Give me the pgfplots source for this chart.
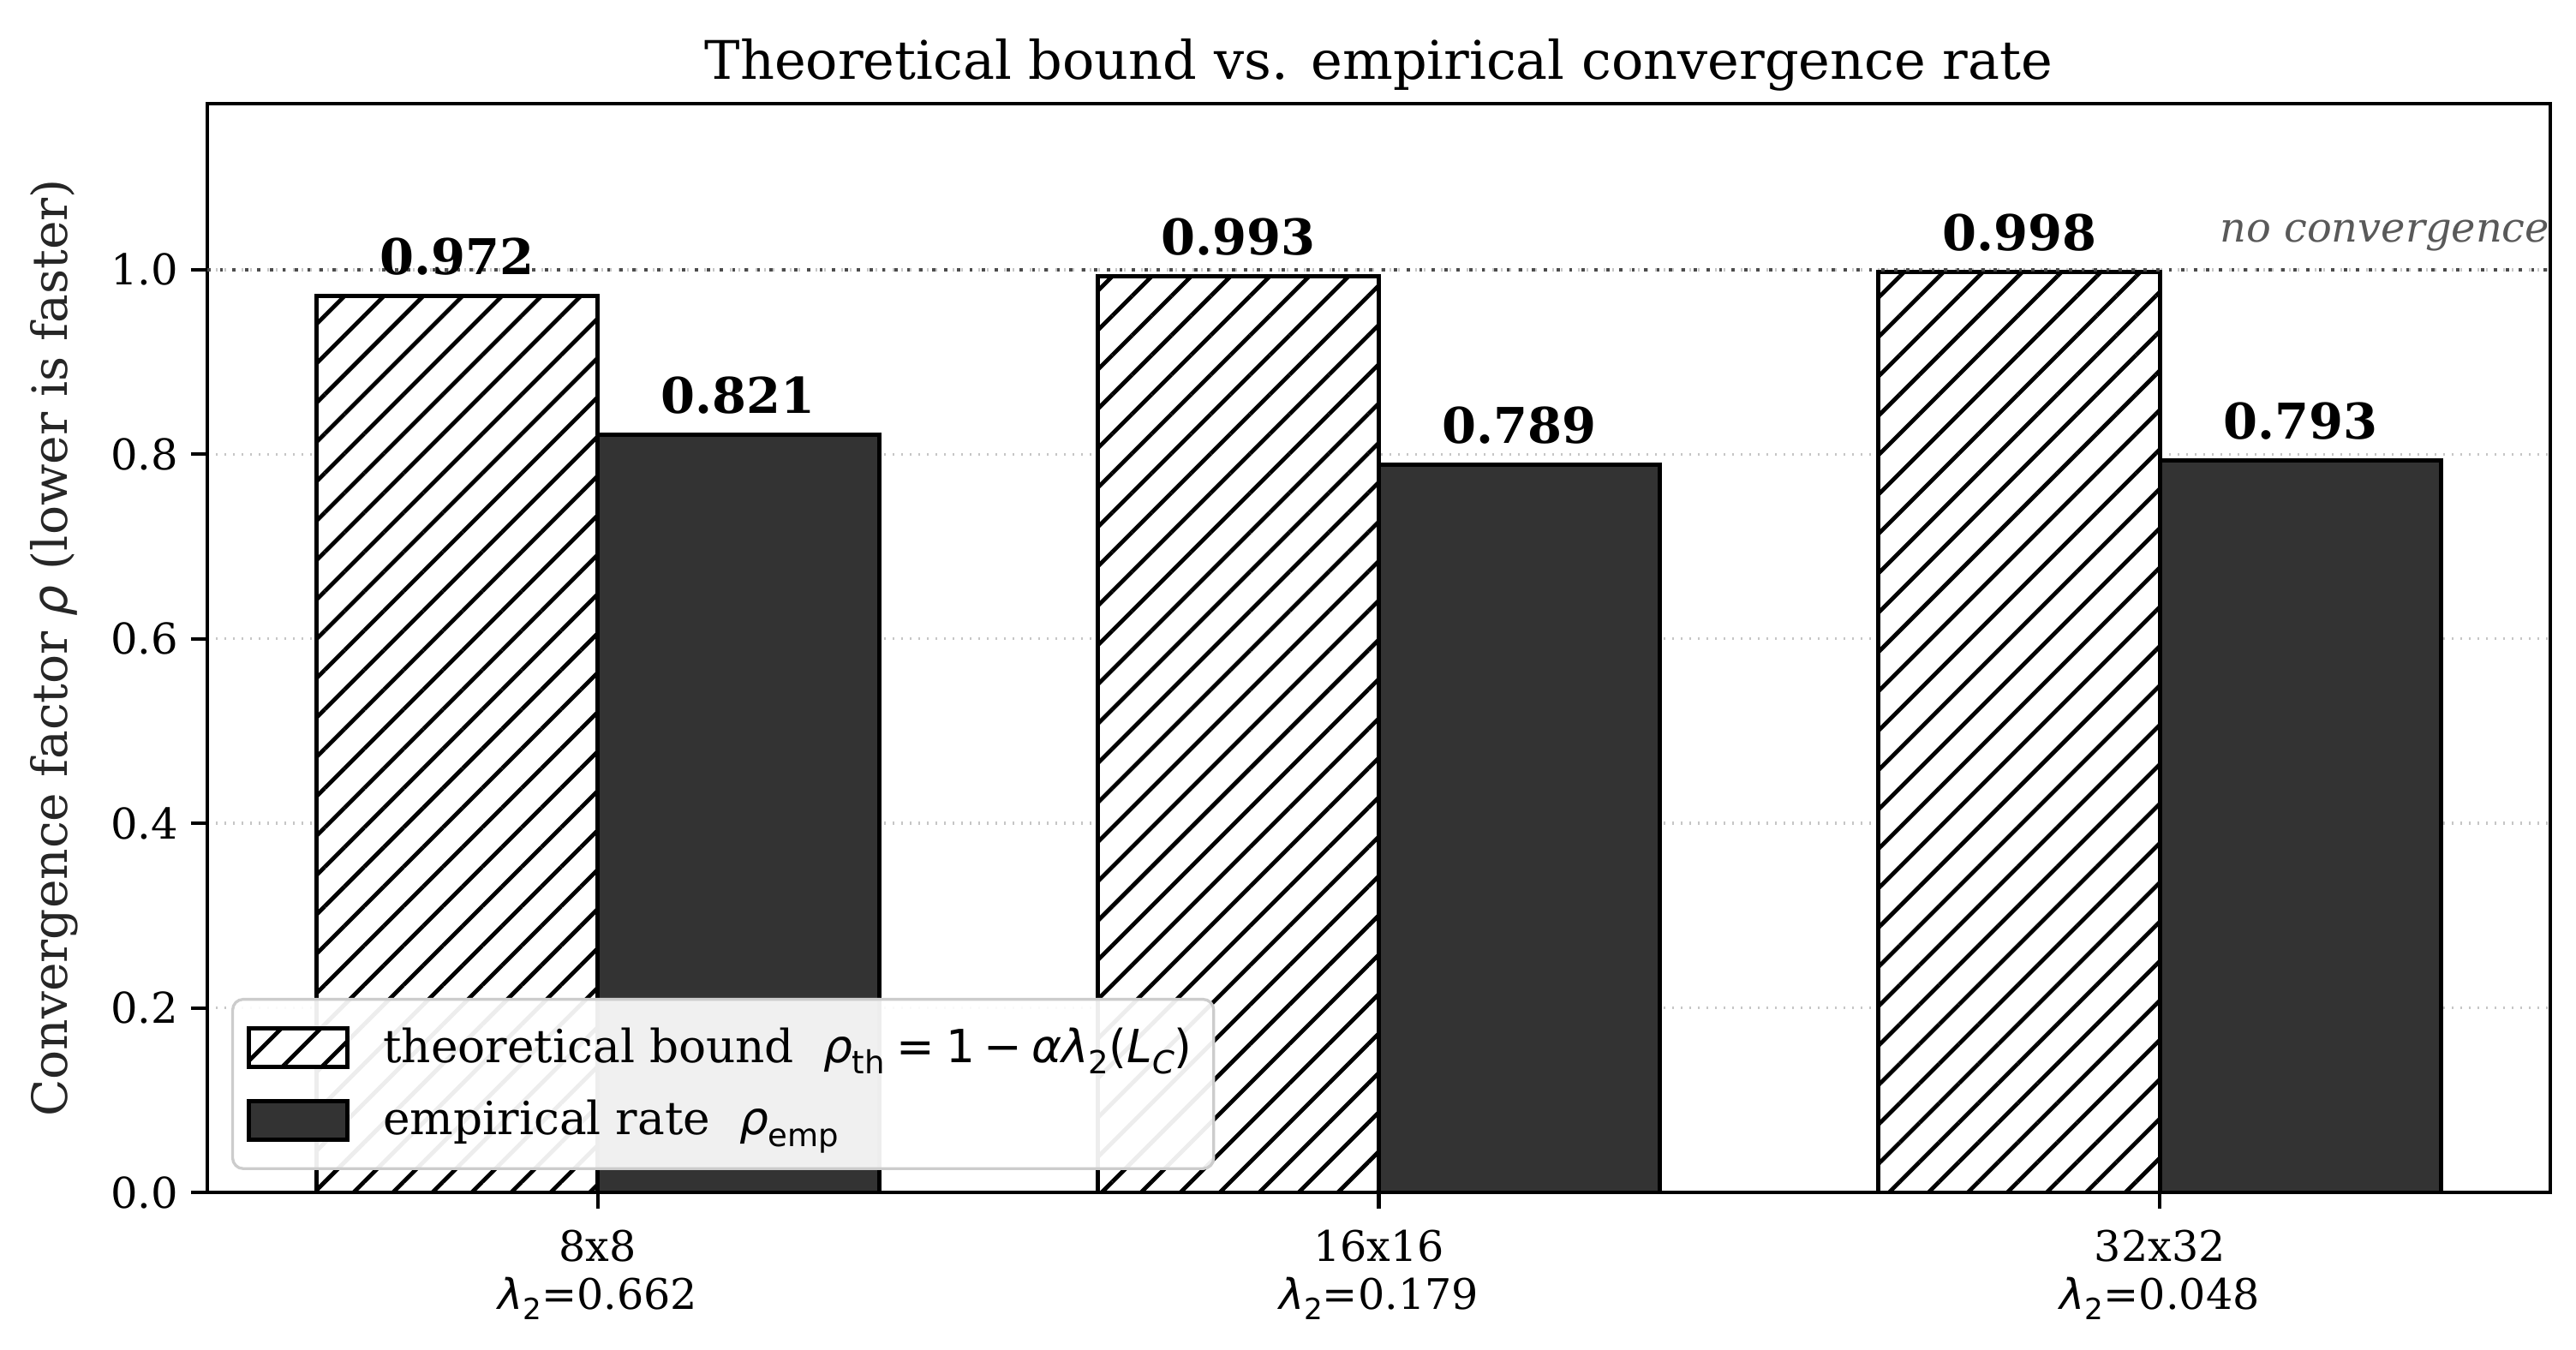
\documentclass[border=0pt]{standalone}
\usepackage{fontspec}
\setmainfont{DejaVu Serif}
\newfontfamily\dvs{DejaVu Sans}
\usepackage{pgfplots}
\pgfplotsset{compat=1.18}
\usetikzlibrary{patterns.meta}
\newcommand\mi[1]{{\dvs\itshape #1}}
\newcommand\mr[1]{{\dvs #1}}
\newcommand\sub[2]{\raisebox{-0.25em}{\fontsize{#1}{#1}\selectfont\dvs #2}}
\definecolor{empc}{HTML}{333333}
\tikzset{hatch/.style={fill=white, postaction={pattern={Lines[angle=45,distance=7.8pt,line width=1.15pt]}}}}
\begin{document}
\begin{tikzpicture}
\useasboundingbox (0,0) rectangle (721.68pt,378pt);
\begin{axis}[
  scale only axis, width=656.4pt, height=305.04pt,
  at={(58.08pt,43.92pt)}, anchor=south west,
  xmin=-0.5, xmax=2.5, ymin=0, ymax=1.18,
  xtick={0,1,2},
  xticklabels={{8x8\\\mi{λ}\sub{8.2}{2}=0.662},{16x16\\\mi{λ}\sub{8.2}{2}=0.179},{32x32\\\mi{λ}\sub{8.2}{2}=0.048}},
  xticklabel style={align=center, font=\fontsize{11.8}{13.5}\selectfont, yshift=-2.4pt},
  ytick={0,0.2,0.4,0.6,0.8,1.0},
  yticklabel style={font=\fontsize{11.9}{13.5}\selectfont, /pgf/number format/fixed, /pgf/number format/fixed zerofill, /pgf/number format/precision=1},
  /pgf/number format/assume math mode=true,
  tick align=outside, tick pos=left,
  major tick length=4.6pt,
  tick style={line width=1pt, black},
  axis line style={line width=1pt},
  ymajorgrids, grid style={dotted, gray!45, line width=0.8pt},
  title={Theoretical bound vs. empirical convergence rate},
  title style={font=\fontsize{14.9}{18}\selectfont, at={(0.5,1)}, anchor=base, yshift=0.9pt, inner sep=0pt},
  ylabel={Convergence factor \mi{ρ} (lower is faster)},
  ylabel style={font=\fontsize{13.6}{15}\selectfont, text=black!85, at={(axis description cs:-0.0654,0.5)}, anchor=center, inner sep=0pt},
  bar width=0.36,
  nodes near coords,
  point meta=y,
  nodes near coords style={font=\fontsize{13.8}{16}\selectfont\bfseries, anchor=base, yshift=6pt, inner sep=0pt, /pgf/number format/fixed, /pgf/number format/fixed zerofill, /pgf/number format/precision=3},
  legend image code/.code={\draw[#1,opacity=1,sharp corners] (0pt,-5.4pt) rectangle (27.6pt,5.4pt);},
  legend style={font=\fontsize{12.8}{15}\selectfont, draw=gray!40, line width=0.8pt, rounded corners=3pt, fill=white, fill opacity=0.93, text opacity=1,
    at={(0.0102,0.0205)}, anchor=south west, inner xsep=4pt, inner ysep=6pt, row sep=5pt,
    cells={anchor=west},
    /tikz/every odd column/.append style={column sep=7.4pt}},
]
\addplot[ybar, bar shift=-0.18, draw=black, line width=1.2pt, hatch,
  every node near coord/.append style={xshift=-39.38pt}] coordinates {(0,0.972) (1,0.993) (2,0.998)};
\addlegendentry{theoretical bound~~\mi{ρ}\sub{8.9}{th}\hspace{0.25em}\mr{=}\hspace{0.25em}\mr{1}\hspace{0.2em}\mr{−}\hspace{0.2em}\mi{α}\mi{λ}\sub{8.9}{2}\mr{(}\mi{L}\sub{8.9}{\itshape C}\mr{)}}
\addplot[ybar, bar shift=0.18, draw=black, fill=empc, line width=1.2pt,
  every node near coord/.append style={xshift=39.38pt}] coordinates {(0,0.821) (1,0.789) (2,0.793)};
\addlegendentry{empirical rate~~\mi{ρ}\sub{8.9}{emp}}
\addplot[forget plot, black!70, line width=0.9pt, dash pattern=on 0.9pt off 2.6pt, nodes near coords={}] coordinates {(-0.5,1) (2.5,1)};
\node[anchor=base east, inner sep=0pt, text=black!65, font=\fontsize{11.5}{13.5}\selectfont\itshape] at (axis cs:2.5,1.03) {no convergence};
\end{axis}
\end{tikzpicture}
\end{document}
